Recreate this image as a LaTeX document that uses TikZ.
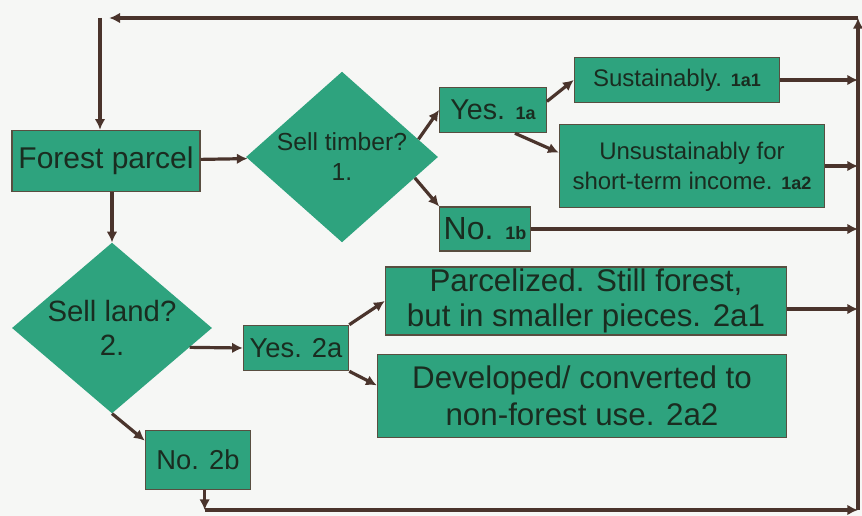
\documentclass[tikz,border=0pt]{standalone}
\usepackage{fontspec}
\setmainfont{Liberation Sans}
\usetikzlibrary{shapes.geometric, arrows.meta, positioning}

\definecolor{boxgreen}{RGB}{46,163,126}
\definecolor{boxline}{RGB}{88,78,64}
\definecolor{arrowbrown}{RGB}{74,52,44}
\definecolor{inktext}{RGB}{26,44,32}
\definecolor{paper}{RGB}{246,247,245}

\newcommand{\refno}[1]{{\fontsize{13.5}{15}\selectfont\bfseries #1}}

\begin{document}
\begin{tikzpicture}[x=0.75pt, y=-0.75pt]
    \tikzset{
        box/.style={
            rectangle,
            draw=boxline,
            line width=0.9pt,
            fill=boxgreen,
            inner sep=0pt,
            text=inktext,
            align=center
        },
        choice/.style={
            diamond,
            fill=boxgreen,
            inner sep=0pt,
            text=inktext,
            align=center
        },
        arr/.style={
            draw=arrowbrown,
            line width=2.4pt,
            -{Latex[length=8pt, width=8pt]}
        }
    }

    \useasboundingbox[fill=paper] (0,0) rectangle (862,516);

    % decision 1: timber
    \node[box, minimum width=141pt, minimum height=46pt,
          font=\fontsize{22.5}{26}\selectfont] (parcel) at (106,161) {Forest parcel};
    \node[choice, aspect=1.13, minimum width=144pt, minimum height=128pt,
          font=\fontsize{18.5}{22.5}\selectfont] (timber) at (342,157) {Sell timber?\\1.};

    \node[box, minimum width=80pt, minimum height=34pt,
          font=\fontsize{21.5}{24}\selectfont] (yesone) at (493,110) {Yes. \refno{1a}};
    \node[box, minimum width=154pt, minimum height=34pt,
          font=\fontsize{18}{20}\selectfont] (sustain) at (677,80) {Sustainably. \refno{1a1}};
    \node[box, minimum width=199pt, minimum height=62pt,
          font=\fontsize{18}{22.5}\selectfont] (unsustain) at (692,166)
          {Unsustainably for\\short-term income. \refno{1a2}};
    \node[box, minimum width=68pt, minimum height=33pt,
          font=\fontsize{24}{26}\selectfont] (noone) at (485,229) {No. \refno{1b}};

    % decision 2: land
    \node[choice, aspect=1.18, minimum width=150pt, minimum height=128pt,
          font=\fontsize{22}{26}\selectfont] (land) at (112,328) {Sell land?\\2.};

    \node[box, minimum width=79pt, minimum height=34pt,
          font=\fontsize{20.5}{24}\selectfont] (yestwo) at (296,348) {Yes. 2a};
    \node[box, minimum width=79pt, minimum height=44pt,
          font=\fontsize{20.5}{24}\selectfont] (notwo) at (198,460) {No. 2b};
    \node[box, minimum width=301pt, minimum height=51pt,
          font=\fontsize{23.5}{26}\selectfont] (parcelized) at (586,301)
          {Parcelized. Still forest,\\but in smaller pieces. 2a1};
    \node[box, minimum width=307pt, minimum height=62pt,
          font=\fontsize{23.5}{27.5}\selectfont] (developed) at (582,396)
          {Developed/ converted to\\non-forest use. 2a2};

    % return loop
    \coordinate (bustop) at (858,18);
    \coordinate (busbottom) at (858,510);
    \coordinate (topleft) at (100,18);

    \draw[arr] (parcel) -- (timber);
    \draw[arr] (timber.13) -- (yesone.west);
    \draw[arr] (timber.-16) -- (noone.north west);
    \draw[arr] ([yshift=-11pt]yesone.north east) -- (sustain.west);
    \draw[arr] ([xshift=-24pt]yesone.south east) -- ([yshift=10pt]unsustain.west);

    \draw[arr] (parcel.south -| land.north) -- (land.north);
    \draw[arr] (land.-14) -- (yestwo.west);
    \draw[arr] (land.south) -- (notwo.160);
    \draw[arr] (yestwo.north east) -- (parcelized.west);
    \draw[arr] (yestwo.south east) -- ([yshift=8pt]developed.west);

    \draw[arr] (sustain.east) -- (sustain.east -| bustop);
    \draw[arr] (unsustain.east) -- (unsustain.east -| bustop);
    \draw[arr] (noone.east) -- (noone.east -| bustop);
    \draw[arr] ([yshift=-6pt]parcelized.east) -- ([yshift=-6pt]parcelized.east -| bustop);

    \draw[arr] ([xshift=5pt]notwo.south) -- ([xshift=5pt]notwo.south |- busbottom);
    \draw[arr] ([xshift=5pt]notwo.south |- busbottom) -- (busbottom);
    \draw[arr] (busbottom) -- (bustop);
    \draw[arr] (bustop) -- ([xshift=7pt]topleft);
    \draw[arr] (topleft) -- (topleft |- parcel.north);

\end{tikzpicture}
\end{document}
